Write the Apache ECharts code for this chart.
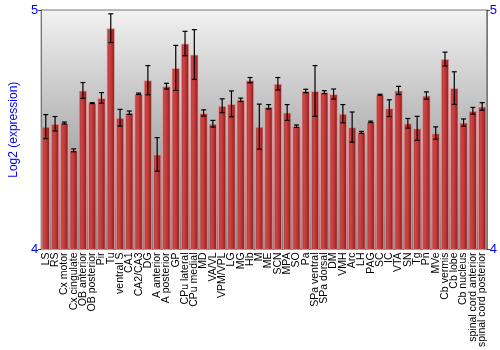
<!DOCTYPE html>
<html><head><meta charset="utf-8">
<script src="https://cdn.jsdelivr.net/npm/echarts@6/dist/echarts.min.js"></script>
<style>html,body{margin:0;padding:0;background:#fff}#c{width:500px;height:350px}</style>
</head><body><div id="c"></div>
<script>
const categories = ["LS","RS","Cx motor","Cx cingulate","OB anterior","OB posterior","Pir","Tu","ventral S","CA1","CA2/CA3","DG","A anterior","A posterior","GP","CPu lateral","CPu medial","MD","VA/VL","VPM/VPL","LG","MG","Hb","M","ME","SCN","MPA","SO","Pa","SPa ventral","SPa dorsal","DM","VMH","Arc","LH","PAG","SC","IC","VTA","SN","Tg","Pn","MVe","Cb vermis","Cb lobe","Cb nucleus","spinal cord anterior","spinal cord posterior"];
const values = [4.513,4.525,4.528,4.414,4.664,4.611,4.633,4.924,4.550,4.571,4.650,4.707,4.397,4.682,4.758,4.860,4.814,4.570,4.525,4.600,4.608,4.625,4.707,4.513,4.596,4.692,4.572,4.515,4.662,4.662,4.657,4.649,4.567,4.511,4.489,4.533,4.646,4.590,4.664,4.527,4.506,4.643,4.486,4.795,4.674,4.530,4.579,4.597];
const errors = [0.050,0.030,0.004,0.006,0.033,0.002,0.022,0.060,0.035,0.007,0.003,0.061,0.070,0.012,0.094,0.051,0.104,0.013,0.014,0.029,0.054,0.007,0.011,0.094,0.009,0.026,0.033,0.005,0.007,0.106,0.006,0.021,0.038,0.063,0.004,0.003,0.002,0.035,0.017,0.020,0.050,0.015,0.026,0.029,0.068,0.015,0.014,0.016];
const yTicks = [4, 5];
const axisName = "Log2 (expression)";

const chart = echarts.init(document.getElementById('c'), null, {renderer: 'canvas'});
const errData = categories.map((c, i) => [i, values[i] - errors[i], values[i] + errors[i]]);
const blue = '#0000ff';
const yAxisCommon = {
  type: 'value', min: yTicks[0], max: yTicks[yTicks.length - 1], interval: 1,
  splitLine: {show: false},
  axisLine: {show: true, lineStyle: {color: '#777'}},
  axisTick: {show: true, length: 3, lineStyle: {color: '#333'}},
  axisLabel: {color: blue, fontSize: 13, fontFamily: 'Liberation Sans, Arial', margin: 3}
};
chart.setOption({
  animation: false,
  grid: {left: 27, right: 13, top: 10, bottom: 100, show: true, borderColor: '#777', borderWidth: 1,
    backgroundColor: new echarts.graphic.LinearGradient(0, 0, 0, 1, [
      {offset: 0, color: '#f2f2f2'}, {offset: 1, color: '#7a7a7a'}])},
  xAxis: {
    type: 'category', data: categories,
    axisLine: {show: true, lineStyle: {color: '#777'}},
    axisTick: {show: false},
    axisLabel: {rotate: 90, interval: 0, fontSize: 10.5, color: '#000', fontFamily: 'Liberation Sans, Arial', margin: 3}
  },
  yAxis: [
    Object.assign({}, yAxisCommon, {position: 'left', name: axisName, nameLocation: 'middle', nameGap: 12,
      nameTextStyle: {color: blue, fontSize: 12, fontFamily: 'Liberation Sans, Arial'}}),
    Object.assign({}, yAxisCommon, {position: 'right'})
  ],
  series: [
    {
      type: 'bar', data: values, barCategoryGap: '10%',
      itemStyle: {
        color: new echarts.graphic.LinearGradient(0, 0, 1, 0, [
          {offset: 0, color: '#a32a2a'}, {offset: 0.3, color: '#cc4646'},
          {offset: 0.6, color: '#b83535'}, {offset: 1, color: '#7c1616'}]),
        borderColor: 'rgba(240,170,170,0.7)', borderWidth: 1
      }
    },
    {
      type: 'custom', data: errData, z: 5,
      renderItem: function (params, api) {
        const x = api.value(0);
        const lo = api.coord([x, api.value(1)]);
        const hi = api.coord([x, api.value(2)]);
        const w = 2.5;
        const style = {stroke: '#000', lineWidth: 1.2};
        return {type: 'group', children: [
          {type: 'line', shape: {x1: lo[0], y1: lo[1], x2: hi[0], y2: hi[1]}, style: style},
          {type: 'line', shape: {x1: lo[0] - w, y1: lo[1], x2: lo[0] + w, y2: lo[1]}, style: style},
          {type: 'line', shape: {x1: hi[0] - w, y1: hi[1], x2: hi[0] + w, y2: hi[1]}, style: style}
        ]};
      }
    }
  ]
});
</script></body></html>
